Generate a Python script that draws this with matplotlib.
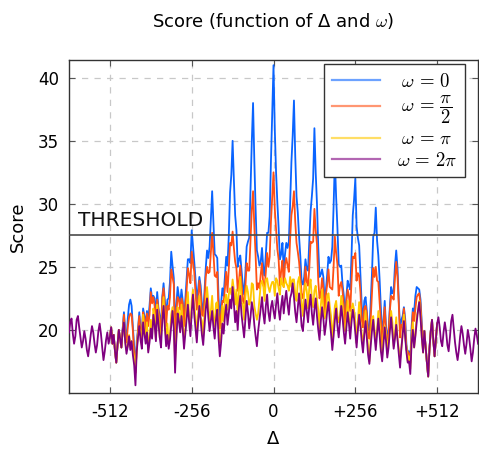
import numpy as np
import matplotlib
matplotlib.use("Agg")
import matplotlib.pyplot as plt

plt.rcParams['mathtext.fontset'] = 'cm'
plt.rcParams['font.family'] = ['DejaVu Sans']

# ---------------- data ----------------
STEP = 4
DELTA_FULL_START, DELTA_FULL_END = -640, 640
DELTA_MAIN_START, DELTA_MAIN_END = -512, 512

threshold = 27.5
x_ticks = [-512, -256, 0, 256, 512]
x_tick_labels = ["-512", "-256", "0", "+256", "+512"]
y_ticks = [20, 25, 30, 35, 40]
labels = [r"$\;\omega\,=\,0$", r"$\;\omega\,=\,\dfrac{\pi}{2}$", r"$\;\omega\,=\,\pi$", r"$\omega\,=\,2\pi$"]

# omega = 2*pi, Delta from -640 to 640 step 4
score_omega_2pi = [
    19.8, 20.6, 20.9, 19.7, 18.9, 19.5, 20.8, 21.1, 20.2, 19.4, 18.6, 19.1, 19.9, 19.3, 18.4, 17.9,
    18.7, 19.6, 20.3, 19.8, 18.9, 18.2, 18.8, 19.9, 20.5, 19.7, 18.6, 17.6, 18.3, 19.2, 19.8, 18.9,
    19.4, 20.2, 18.9, 19.6, 18.3, 17.4, 18.8, 20.0, 19.3, 18.6, 19.9, 20.6, 19.0, 18.1, 18.7, 19.5,
    18.4, 19.1, 18.0, 17.2, 15.6, 18.3, 19.4, 20.3, 19.2, 18.5, 20.6, 19.7, 18.9, 19.8, 18.2, 19.0,
    20.1, 19.3, 21.2, 20.4, 19.1, 21.6, 20.5, 19.4, 18.6, 20.8, 21.9, 20.2, 18.7, 19.6, 18.5, 19.2,
    20.4, 21.5, 20.1, 16.6, 19.3, 21.3, 20.7, 19.8, 21.1, 20.0, 18.5, 19.7, 21.0, 22.0, 20.6, 19.5,
    21.4, 22.8, 21.2, 20.1, 19.0, 20.6, 21.9, 20.8, 19.6, 18.8, 20.3, 21.7, 22.5, 21.0, 19.9, 20.7,
    21.5, 20.2, 19.3, 20.8, 21.6, 19.4, 17.9, 19.0, 20.5, 19.7, 21.1, 22.0, 20.4, 21.3, 22.4, 21.7,
    23.4, 22.1, 20.6, 21.5, 20.0, 21.8, 22.7, 21.2, 20.3, 19.4, 20.9, 22.3, 21.4, 20.1, 21.0, 22.2,
    21.6, 20.4, 19.5, 18.7, 19.9, 20.8, 21.7, 22.6, 21.3, 20.5, 21.9, 22.8, 21.4, 20.7, 21.8, 22.3,
    21.5, 20.9, 22.0, 22.9, 21.6, 20.8, 21.9, 22.7, 21.3, 22.4, 23.1, 22.0, 21.2, 22.5, 22.9, 23.7,
    22.6, 21.4, 20.6, 21.8, 22.9, 21.7, 20.3, 19.9, 21.2, 22.4, 21.5, 20.6, 21.9, 22.8, 21.3, 20.4,
    21.6, 22.5, 21.1, 20.0, 19.2, 20.7, 21.8, 20.9, 19.6, 20.4, 21.5, 22.2, 20.8, 19.7, 18.4, 19.5,
    20.8, 21.7, 20.3, 19.4, 20.6, 21.9, 21.0, 19.8, 18.9, 20.2, 21.4, 20.5, 19.3, 20.6, 21.6, 20.9,
    19.7, 18.6, 20.0, 21.2, 20.3, 19.1, 18.2, 19.6, 20.7, 19.4, 18.0, 17.3, 18.7, 19.9, 20.8, 19.5,
    18.4, 19.7, 20.9, 19.6, 18.3, 17.5, 18.9, 20.2, 19.1, 17.8, 18.6, 19.9, 21.0, 19.8, 18.5, 19.3,
    20.4, 19.2, 18.1, 17.0, 18.5, 19.6, 20.7, 19.4, 18.2, 17.4, 17.5, 16.5, 18.9, 20.0, 18.6, 19.5,
    20.6, 21.5, 22.2, 21.0, 19.4, 18.2, 19.9, 18.6, 17.4, 16.3, 18.5, 19.9, 20.8, 19.2, 17.9, 19.2,
    20.5, 21.0, 20.2, 19.1, 18.7, 19.8, 20.6, 19.9, 18.8, 18.3, 19.4, 20.7, 21.2, 20.1, 19.0, 18.2,
    17.6, 18.4, 19.5, 20.3, 19.7, 18.8, 18.1, 18.9, 20.0, 19.4, 18.5, 17.5, 18.2, 19.3, 20.1, 19.6,
    18.9,
]

# omega = pi, Delta from -512 to 512 step 4
score_omega_pi = [
    19.4, 20.2, 18.9, 19.6, 18.3, 17.4, 18.8, 20.0, 19.3, 18.6, 19.9, 20.6, 19.1, 18.4, 18.7, 19.6,
    18.9, 19.1, 18.3, 17.8, 16.6, 18.5, 19.8, 20.1, 19.9, 18.8, 21.2, 19.8, 19.4, 20.6, 18.4, 19.4,
    20.8, 19.5, 21.7, 21.2, 19.2, 22.0, 21.1, 19.4, 19.4, 21.2, 22.6, 20.4, 19.3, 20.5, 18.8, 19.7,
    21.2, 21.8, 20.7, 17.5, 19.5, 21.8, 21.4, 19.9, 22.0, 20.5, 19.3, 20.0, 21.7, 23.0, 21.0, 20.1,
    22.3, 23.2, 21.9, 21.1, 19.3, 21.2, 22.7, 21.0, 20.7, 19.5, 21.3, 22.2, 23.4, 22.2, 20.5, 21.5,
    22.7, 20.9, 20.3, 22.1, 22.2, 20.3, 19.0, 19.5, 21.9, 20.7, 22.4, 22.8, 21.6, 22.8, 23.3, 22.8,
    24.0, 23.2, 22.0, 23.2, 21.0, 23.1, 24.2, 22.1, 22.1, 20.8, 22.6, 23.5, 23.0, 22.0, 22.3, 23.7,
    23.6, 21.9, 21.3, 20.8, 21.3, 22.5, 23.6, 23.9, 23.5, 22.3, 24.0, 24.1, 23.4, 23.0, 23.5, 23.8,
    23.8, 22.7, 24.1, 23.9, 23.3, 22.8, 24.1, 23.6, 23.4, 24.1, 23.7, 23.5, 23.1, 24.2, 23.4, 24.0,
    24.0, 22.8, 22.3, 23.8, 24.2, 23.3, 22.1, 21.1, 22.9, 23.7, 23.1, 21.7, 23.4, 24.0, 22.5, 21.8,
    23.1, 23.5, 22.4, 21.6, 20.1, 21.9, 23.2, 21.7, 20.9, 21.3, 22.7, 22.9, 21.9, 21.1, 19.2, 20.5,
    21.9, 22.3, 21.2, 20.6, 21.1, 22.7, 22.0, 20.2, 19.9, 20.8, 22.3, 20.9, 20.1, 21.7, 22.1, 21.6,
    20.6, 19.0, 20.7, 22.2, 20.6, 19.7, 19.0, 19.8, 21.5, 19.8, 18.7, 17.5, 19.3, 20.8, 21.1, 20.0,
    19.2, 20.0, 21.5, 20.5, 18.5, 18.0, 19.6, 20.3, 19.8, 18.1, 19.2, 20.0, 21.5, 20.6, 18.7, 19.7,
    21.0, 19.3, 18.5, 17.7, 18.5, 19.9, 21.2, 19.3, 18.7, 17.5, 17.9, 16.9, 19.2, 20.6, 18.6, 19.7,
    21.1, 21.5, 22.3, 21.2, 19.4, 18.2, 19.9, 18.6, 17.4, 16.3, 18.5, 19.9, 20.8, 19.2, 17.9, 19.2,
    20.5,
]

# omega = pi/2, Delta from -512 to 512 step 4
score_omega_half_pi = [
    19.4, 20.2, 18.9, 19.6, 18.3, 17.4, 18.8, 20.0, 19.3, 18.6, 20.0, 21.2, 19.4, 19.0, 20.2, 21.0,
    21.3, 21.2, 19.9, 18.1, 16.6, 18.5, 20.0, 21.1, 19.7, 19.7, 21.4, 20.9, 19.8, 21.3, 20.3, 21.2,
    23.0, 22.1, 22.6, 21.9, 20.6, 22.4, 21.6, 20.7, 19.6, 22.5, 23.3, 21.9, 20.3, 21.9, 21.6, 22.6,
    24.8, 24.2, 23.6, 18.9, 21.5, 22.6, 22.4, 21.6, 22.5, 22.1, 20.3, 21.9, 23.1, 24.9, 24.4, 23.7,
    26.2, 25.4, 24.6, 22.9, 21.6, 22.3, 23.9, 22.9, 21.2, 21.1, 22.3, 24.2, 25.0, 24.5, 24.6, 26.1,
    27.7, 26.1, 24.3, 24.2, 24.6, 21.4, 20.1, 21.3, 22.3, 22.2, 23.3, 24.6, 23.0, 24.8, 26.9, 26.7,
    27.8, 26.5, 25.4, 24.9, 23.1, 23.9, 25.1, 23.7, 22.3, 22.1, 23.4, 25.3, 24.7, 24.7, 27.1, 29.5,
    31.0, 28.2, 25.9, 23.2, 23.7, 23.3, 24.4, 25.3, 23.5, 23.4, 24.6, 26.1, 25.0, 25.8, 28.6, 30.6,
    32.5, 29.6, 28.0, 26.4, 25.6, 23.5, 24.7, 25.5, 23.4, 25.2, 25.7, 25.1, 24.6, 27.2, 29.1, 29.8,
    31.0, 28.6, 26.9, 26.2, 25.4, 24.1, 22.9, 22.5, 23.1, 25.0, 23.8, 23.5, 24.9, 27.0, 26.9, 27.0,
    29.6, 27.9, 26.8, 23.9, 22.5, 22.9, 24.1, 23.3, 21.3, 22.8, 23.6, 24.8, 23.4, 23.3, 23.2, 25.0,
    27.4, 26.1, 25.2, 22.7, 23.5, 23.8, 23.1, 22.0, 20.3, 22.3, 23.2, 22.7, 21.5, 23.8, 25.8, 25.7,
    26.1, 23.9, 24.5, 24.3, 23.0, 20.8, 20.2, 21.7, 21.9, 21.3, 19.6, 19.3, 20.8, 22.9, 24.9, 24.2,
    25.0, 23.9, 23.8, 22.2, 20.6, 18.7, 20.4, 21.8, 19.8, 19.2, 19.7, 21.5, 22.7, 22.6, 22.4, 24.1,
    25.4, 24.2, 22.0, 19.4, 20.4, 20.4, 21.7, 20.5, 18.4, 18.3, 18.1, 17.4, 19.6, 21.4, 20.7, 21.7,
    22.6, 22.8, 22.9, 22.0, 20.2, 18.4, 19.9, 18.6, 17.4, 16.3, 18.5, 19.9, 20.8, 19.2, 17.9, 19.2,
    20.5,
]

# omega = 0, Delta from -512 to 512 step 4
score_omega_0 = [
    19.4, 20.2, 18.9, 19.6, 18.3, 17.4, 18.8, 20.0, 19.3, 18.6, 20.1, 21.4, 20.0, 19.2, 20.9, 22.0,
    22.4, 21.9, 20.2, 18.7, 16.9, 19.1, 20.0, 21.4, 20.2, 19.7, 21.7, 21.1, 20.5, 21.5, 20.8, 21.9,
    23.3, 22.5, 22.7, 22.5, 21.0, 23.0, 21.7, 21.1, 20.2, 22.6, 23.7, 22.3, 21.1, 22.4, 22.5, 23.8,
    26.2, 25.1, 24.1, 19.8, 22.0, 23.4, 22.6, 22.1, 23.2, 22.3, 20.8, 22.4, 24.1, 25.6, 25.6, 25.3,
    27.9, 26.7, 25.4, 24.0, 22.3, 23.2, 24.2, 23.5, 22.0, 21.4, 23.0, 24.9, 26.3, 25.7, 26.6, 28.8,
    31.0, 28.6, 26.0, 25.9, 25.7, 22.6, 20.7, 22.1, 23.3, 22.7, 24.2, 25.8, 25.1, 27.4, 30.9, 32.3,
    35.0, 31.9, 29.1, 27.9, 25.0, 25.6, 25.9, 24.7, 23.5, 22.8, 24.5, 26.6, 27.0, 27.3, 31.1, 34.9,
    38.0, 33.4, 29.6, 26.3, 25.8, 25.1, 25.4, 26.5, 24.9, 24.3, 26.0, 27.7, 27.7, 29.0, 33.4, 37.1,
    41.0, 35.9, 32.5, 30.1, 28.1, 25.6, 26.0, 26.9, 24.7, 26.0, 26.9, 26.5, 27.0, 30.0, 33.3, 35.4,
    38.2, 33.8, 30.6, 29.3, 27.4, 25.8, 23.8, 23.6, 24.2, 25.6, 24.8, 24.7, 27.0, 29.4, 30.6, 32.0,
    36.0, 32.5, 30.0, 26.6, 24.2, 24.4, 24.8, 24.2, 22.2, 23.2, 24.4, 25.8, 25.3, 25.5, 26.6, 29.8,
    33.5, 30.5, 28.1, 25.2, 25.0, 25.1, 23.6, 22.7, 21.1, 22.6, 23.9, 23.5, 23.2, 25.8, 29.1, 30.3,
    32.0, 28.2, 27.3, 26.7, 24.4, 22.0, 20.6, 22.3, 22.6, 21.5, 20.1, 19.9, 22.2, 24.4, 27.4, 27.7,
    29.7, 27.1, 25.9, 24.0, 21.7, 19.7, 20.7, 22.3, 20.3, 19.2, 20.0, 21.8, 23.4, 22.9, 23.1, 25.1,
    26.3, 24.9, 22.3, 20.1, 20.8, 21.1, 21.8, 20.9, 18.8, 18.2, 18.3, 17.6, 20.2, 21.7, 21.4, 22.7,
    23.4, 23.3, 23.2, 22.4, 20.5, 18.6, 19.9, 18.6, 17.4, 16.3, 18.5, 19.9, 20.8, 19.2, 17.9, 19.2,
    20.5,
]

delta_full = np.arange(DELTA_FULL_START, DELTA_FULL_END + 1, STEP)
delta_main = np.arange(DELTA_MAIN_START, DELTA_MAIN_END + 1, STEP)

colors = ["#0a64ff", "#ff5014", "#ffc800", "#800080"]

# ---------------- figure ----------------
fig = plt.figure(figsize=(4.79, 4.49), dpi=100)
ax = fig.add_axes([0.144, 0.125, 0.854, 0.741])

series = [
    (delta_main, score_omega_0),
    (delta_main, score_omega_half_pi),
    (delta_main, score_omega_pi),
    (delta_full, score_omega_2pi),
]
for (xs, ys), c, lab in zip(series, colors, labels):
    ax.plot(xs, ys, color=c, lw=1.3, label=lab, zorder=3)

ax.axhline(threshold, color="#4a4a4a", lw=1.2, zorder=4)
ax.text(-612, threshold + 0.4, "THRESHOLD", fontsize=14.5, ha="left", va="bottom",
        color="#111111", zorder=5)

ax.set_xlim(-640, 640)
ax.set_ylim(15, 41.4)
ax.set_xticks(x_ticks)
ax.set_xticklabels(x_tick_labels)
ax.set_yticks(y_ticks)
ax.grid(True, color="#c8c8c8", lw=0.9, ls=(0, (5, 5)), zorder=0)
ax.set_axisbelow(True)

for s in ax.spines.values():
    s.set_color("#333333")
    s.set_linewidth(1.0)
ax.tick_params(direction="in", length=4, width=0.8, color="#555555",
               top=True, right=True, labelsize=12, pad=7)

ax.set_title(r"Score (function of Δ and $\omega$)", fontsize=13, pad=24)
ax.set_xlabel("Δ", fontsize=13, labelpad=7)
ax.set_ylabel("Score", fontsize=13, labelpad=8)

leg = ax.legend(loc="upper right", bbox_to_anchor=(0.968, 0.988), borderaxespad=0,
                fontsize=13.5, handlelength=2.6, labelspacing=0.15, fancybox=False,
                framealpha=1.0, edgecolor="#333333", borderpad=0.4, handletextpad=0.9)
leg.get_frame().set_linewidth(1.0)
leg.set_zorder(10)
for h in leg.legend_handles:
    h.set_alpha(0.6)
    h.set_linewidth(1.6)

fig.savefig("out.png", dpi=100)
